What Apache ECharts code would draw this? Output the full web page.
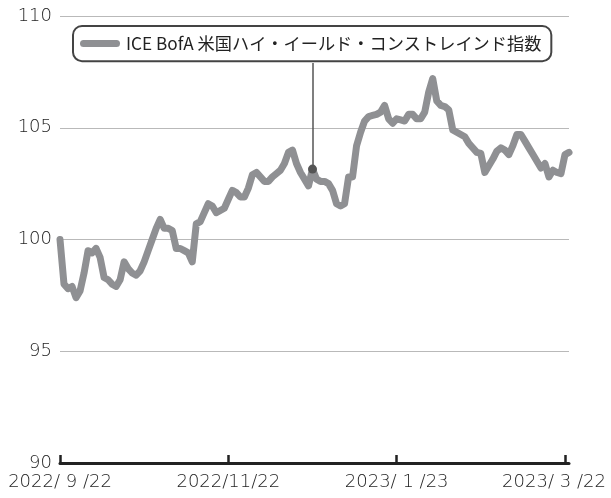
<!DOCTYPE html>
<html>
<head>
<meta charset="utf-8">
<script src="https://cdn.jsdelivr.net/npm/echarts@6/dist/echarts.min.js"></script>
<style>
  html, body { margin: 0; padding: 0; background: #fff; }
  #chart { width: 611px; height: 498px; }
</style>
</head>
<body>
<div id="chart"></div>
<script>
// 日付ラベル（営業日インデックス上の位置）
const tickIndex = [0, 42, 84, 126];
const tickLabels = ['2022/ 9 /22', '2022/11/22', '2023/ 1 /23', '2023/ 3 /22'];

const seriesName = 'ICE BofA 米国ハイ・イールド・コンストレインド指数';

// 指数の値（2022/9/22 = 100）
const hyValues = [
  100.0, 98.0, 97.8, 97.9, 97.4, 97.7, 98.5, 99.5, 99.4, 99.6,
  99.2, 98.3, 98.2, 98.0, 97.9, 98.2, 99.0, 98.7, 98.5, 98.4,
  98.6, 99.0, 99.5, 100.0, 100.5, 100.9, 100.5, 100.5, 100.4, 99.6,
  99.6, 99.5, 99.4, 99.0, 100.7, 100.8, 101.2, 101.6, 101.5, 101.2,
  101.3, 101.4, 101.8, 102.2, 102.1, 101.9, 101.9, 102.3, 102.9, 103.0,
  102.8, 102.6, 102.6, 102.8, 102.95, 103.1, 103.4, 103.9, 104.0, 103.4,
  103.0, 102.7, 102.4, 103.15, 102.7, 102.6, 102.6, 102.5, 102.2, 101.6,
  101.5, 101.6, 102.8, 102.8, 104.2, 104.8, 105.3, 105.5, 105.55, 105.6,
  105.7, 106.0, 105.4, 105.2, 105.4, 105.35, 105.3, 105.6, 105.6, 105.4,
  105.4, 105.7, 106.6, 107.2, 106.2, 106.0, 105.95, 105.8, 104.9, 104.8,
  104.7, 104.6, 104.3, 104.1, 103.9, 103.85, 103.0, 103.3, 103.6, 103.95,
  104.1, 104.0, 103.8, 104.2, 104.7, 104.7, 104.4, 104.1, 103.8, 103.5,
  103.2, 103.4, 102.8, 103.1, 103.0, 102.95, 103.8, 103.9
];

// 吹き出しの指す点と、凡例枠の下端
const calloutIndex = 63;
const calloutTop = 107.9;

const myChart = echarts.init(document.getElementById('chart'));
const lineColor = '#8f9093';
const axisFont = 'DejaVu Sans';
const labelColor = '#1e1e1e';

const option = {
  animation: false,
  grid: {
    left: 60,
    right: 42,
    top: 16,
    bottom: 35
  },
  legend: {
    left: 73,
    top: 26,
    data: [seriesName],
    backgroundColor: '#fff',
    borderColor: '#444',
    borderWidth: 2,
    borderRadius: 9,
    padding: [9, 10, 9, 7],
    itemWidth: 40,
    itemHeight: 7,
    itemGap: 0,
    icon: 'path://M3.5,0 H36.5 A3.5,3.5 0 0 1 36.5,7 H3.5 A3.5,3.5 0 0 1 3.5,0 Z',
    textStyle: {
      fontFamily: 'Noto Sans CJK JP',
      fontSize: 17.2,
      color: '#222',
      padding: [0, 0, 0, 1]
    },
    z: 10
  },
  xAxis: {
    type: 'value',
    min: 0,
    max: hyValues.length - 1,
    splitLine: { show: false },
    axisLine: {
      show: true,
      lineStyle: { color: '#222', width: 3 }
    },
    axisTick: {
      show: true,
      inside: true,
      length: 8,
      customValues: tickIndex,
      lineStyle: { color: '#222', width: 2.5 }
    },
    axisLabel: {
      customValues: tickIndex,
      fontFamily: axisFont,
      fontWeight: 200,
      fontSize: 18,
      color: labelColor,
      margin: 10,
      formatter: (val) => {
        const k = tickIndex.indexOf(val);
        if (k < 0) return '';
        if (k === tickIndex.length - 1) return '{last|' + tickLabels[k] + '}';
        return tickLabels[k];
      },
      rich: {
        last: {
          fontFamily: axisFont,
          fontWeight: 200,
          fontSize: 18,
          color: labelColor,
          padding: [0, 22, 0, 0]
        }
      }
    }
  },
  yAxis: {
    type: 'value',
    min: 90,
    max: 110,
    interval: 5,
    axisLine: { show: false },
    axisTick: { show: false },
    axisLabel: {
      fontFamily: axisFont,
      fontWeight: 200,
      fontSize: 18,
      color: labelColor,
      margin: 8
    },
    splitLine: {
      lineStyle: { color: '#b9b9b9', width: 1 }
    }
  },
  series: [
    {
      name: seriesName,
      type: 'line',
      data: hyValues.map((v, i) => [i, v]),
      showSymbol: false,
      symbol: 'none',
      color: lineColor,
      lineStyle: {
        color: lineColor,
        width: 7,
        join: 'round',
        cap: 'round'
      },
      z: 3,
      markLine: {
        silent: true,
        z: 10,
        symbol: ['circle', 'none'],
        symbolSize: 9,
        label: { show: false },
        lineStyle: { color: '#555', width: 1.5, type: 'solid' },
        itemStyle: { color: '#555' },
        data: [
          [
            { coord: [calloutIndex, hyValues[calloutIndex]] },
            { coord: [calloutIndex, calloutTop] }
          ]
        ]
      }
    }
  ]
};

myChart.setOption(option);
</script>
</body>
</html>
